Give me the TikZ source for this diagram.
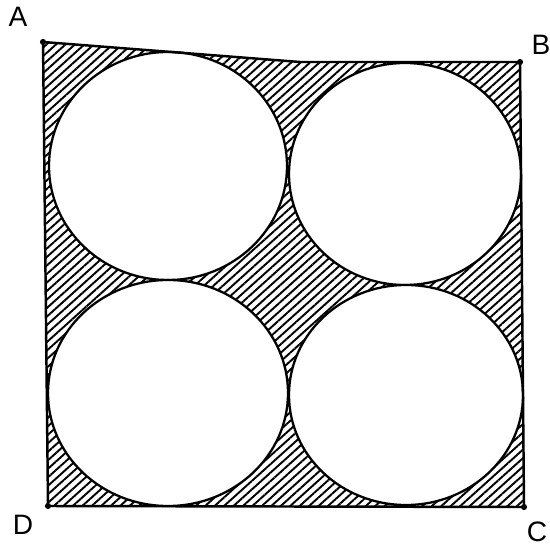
\documentclass[tikz,border=0pt]{standalone}
\usepackage{fontspec}
\setsansfont{Liberation Sans}
\usetikzlibrary{patterns.meta}
\tikzset{
  edge/.style={line width=1.4pt,line join=round},
  hatch/.style={pattern={Lines[angle=42,distance=3.6pt,line width=1.1pt]}},
  disc/.style={draw,fill=white,line width=1.3pt},
  corner/.style={font=\sffamily\fontsize{16}{16}\selectfont,inner sep=0pt},
  dot/.style={circle,fill,inner sep=0pt,minimum size=3.5pt}
}
\begin{document}
\begin{tikzpicture}[x=0.02cm,y=-0.02cm]
  \useasboundingbox (0,0) rectangle (550,546);
  % corners of the plate
  \coordinate (A) at (43,42);
  \coordinate (kink) at (300,62);
  \coordinate (B) at (520,62);
  \coordinate (C) at (524,507);
  \coordinate (D) at (48,506);
  % shaded plate
  \fill[hatch] (A) -- (kink) -- (B) -- (C) -- (D) -- cycle;
  % four discs
  \draw[disc] (168,166) ellipse [x radius=119,y radius=114];
  \draw[disc] (405,174) ellipse [x radius=116,y radius=111];
  \draw[disc] (168,393) ellipse [x radius=120,y radius=113];
  \draw[disc] (406,395) ellipse [x radius=117,y radius=110];
  % outline
  \draw[edge] (A) -- (kink) -- (B) -- (C) -- (D) -- cycle;
  \node[dot] (dA) at (A) {};
  \node[dot] (dB) at (B) {};
  \node[dot] (dC) at (C) {};
  \node[dot] (dD) at (D) {};
  % labels
  \node[corner] (labA) at (18,17) {A};
  \node[corner] (labB) at (541,45) {B};
  \node[corner] (labC) at (537,532) {C};
  \node[corner] (labD) at (23,525) {D};
\end{tikzpicture}
\end{document}
